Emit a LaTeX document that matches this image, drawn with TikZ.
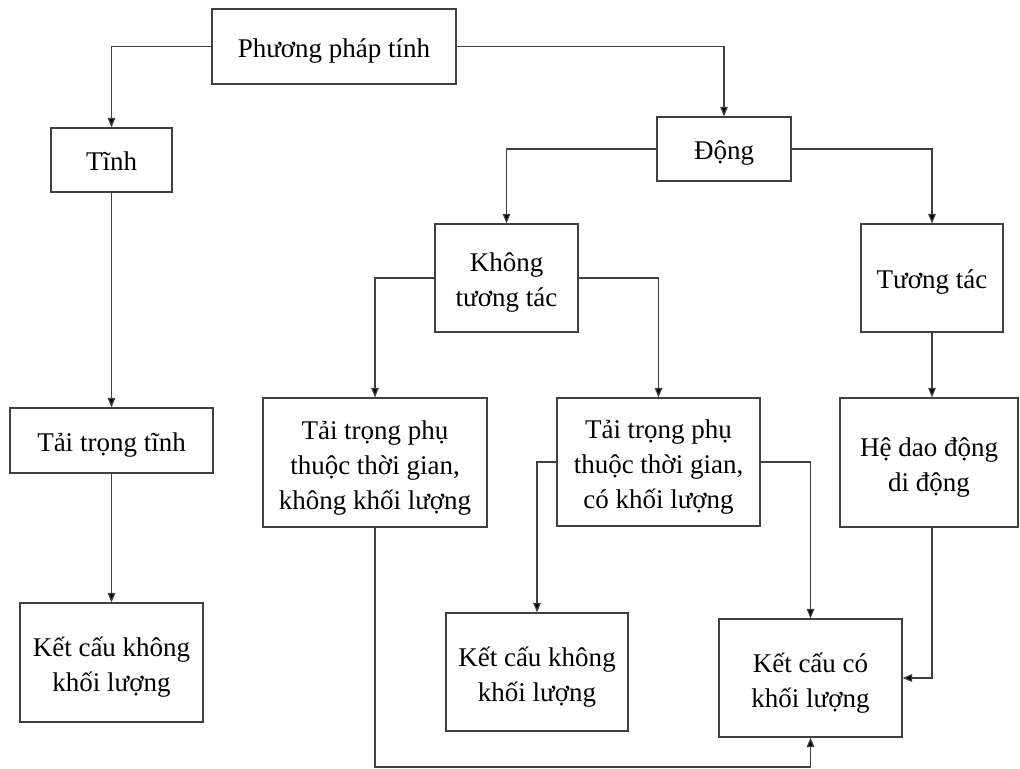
\documentclass[tikz,border=0pt]{standalone}
\usepackage{fontspec}
\setmainfont{Liberation Serif}
\usetikzlibrary{arrows.meta}

\newcommand{\lift}{\rule{0pt}{15pt}}

\tikzset{
  box/.style={draw=black!75, line width=0.6pt, align=center, inner sep=0pt,
    font=\fontsize{13.5}{17.5}\selectfont,
    execute at begin node={\rule{0pt}{14.5pt}},
    execute at end node={\rule[-3.5pt]{0pt}{0pt}}},
  link/.style={draw=black!75, line width=0.6pt,
    -{Triangle[width=3.8pt,length=4.8pt,fill=black]}}
}

\begin{document}
\begin{tikzpicture}[x=0.5pt, y=-0.5pt]
          \useasboundingbox (0,0) rectangle (1020,769);

          \node[box, minimum width=122pt, minimum height=37.5pt] (meth) at (334,46.5) {Phương pháp tính};
          \node[box, minimum width=60.5pt, minimum height=32pt] (tinh) at (111.5,160) {Tĩnh};
          \node[box, minimum width=67pt, minimum height=32pt] (dong) at (724,149) {Động};
          \node[box, minimum width=71.5pt, minimum height=54pt] (ktt) at (506.5,278) {\lift Không\\tương tác};
          \node[box, minimum width=71pt, minimum height=54pt] (tt) at (932,278) {Tương tác};
          \node[box, minimum width=101.5pt, minimum height=32.5pt] (tttinh) at (111.5,440.5) {Tải trọng tĩnh};
          \node[box, minimum width=112pt, minimum height=64.5pt] (tkkl) at (375,462.5) {\lift Tải trọng phụ\\thuộc thời gian,\\không khối lượng};
          \node[box, minimum width=101.5pt, minimum height=64pt] (tckl) at (658.5,462) {\lift Tải trọng phụ\\thuộc thời gian,\\có khối lượng};
          \node[box, minimum width=89pt, minimum height=64.5pt] (hdd) at (929,462.5) {\lift Hệ dao động\\di động};
          \node[box, minimum width=91.5pt, minimum height=59.5pt] (kc1) at (111.5,662.5) {\lift Kết cấu không\\khối lượng};
          \node[box, minimum width=91pt, minimum height=59pt] (kc2) at (537,672) {\lift Kết cấu không\\khối lượng};
          \node[box, minimum width=91.5pt, minimum height=59pt] (kc3) at (810.5,678) {\lift Kết cấu có\\khối lượng};

          \coordinate (hddout) at (tt.south |- hdd.south);
          \coordinate (bend) at (tkkl.south |- 0,767);

          \draw[link] (meth.west) -| (tinh.north);
          \draw[link] (meth.east) -| (dong.north);
          \draw[link] (dong.west) -| (ktt.north);
          \draw[link] (dong.east) -| (tt.north);
          \draw[link] (tinh.south) -- (tttinh.north);
          \draw[link] (tttinh.south) -- (kc1.north);
          \draw[link] (ktt.west) -| (tkkl.north);
          \draw[link] (ktt.east) -| (tckl.north);
          \draw[link] (tt.south) -- (tt.south |- hdd.north);
          \draw[link] (tckl.west) -| (kc2.north);
          \draw[link] (tckl.east) -| (kc3.north);
          \draw[link] (hddout) |- (kc3.east);
          \draw[link] (tkkl.south) -- (bend) -| (kc3.south);
        \end{tikzpicture}
\end{document}
